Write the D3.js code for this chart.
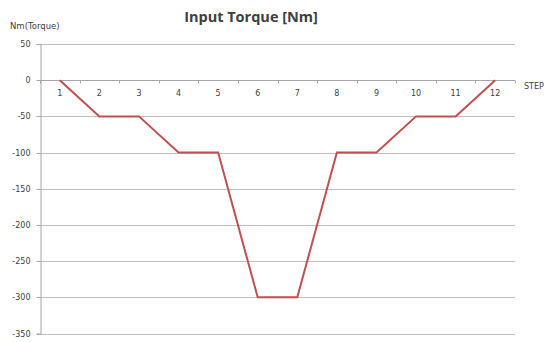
<!DOCTYPE html>
<html>
<head>
<meta charset="utf-8">
<script src="https://cdn.jsdelivr.net/npm/d3@7"></script>
<style>
  body { margin: 0; background: #fff; }
  svg text { font-family: "DejaVu Sans", Verdana, sans-serif; fill: #404040; }
</style>
</head>
<body>
<div id="chart"></div>
<script>
const steps = ['1', '2', '3', '4', '5', '6', '7', '8', '9', '10', '11', '12'];
const torque = [0, -50, -50, -100, -100, -300, -300, -100, -100, -50, -50, 0];
const yTicks = [50, 0, -50, -100, -150, -200, -250, -300, -350];

const width = 550;
const height = 342;
const plot = { left: 40, right: 515, top: 44, bottom: 333.5 };

const svg = d3.select('#chart')
  .append('svg')
  .attr('width', width)
  .attr('height', height);

const xScale = d3.scaleBand()
  .domain(steps)
  .range([plot.left, plot.right]);

const yScale = d3.scaleLinear()
  .domain([-350, 50])
  .range([plot.bottom, plot.top]);

// gridlines
svg.append('g')
  .selectAll('line')
  .data(yTicks)
  .join('line')
  .attr('x1', plot.left)
  .attr('x2', plot.right)
  .attr('y1', (d) => Math.round(yScale(d)) + 0.5)
  .attr('y2', (d) => Math.round(yScale(d)) + 0.5)
  .attr('stroke', '#bfbfbf')
  .attr('stroke-width', 1);

// y axis (plain hyphen for negatives, like the original)
const yAxis = svg.append('g')
  .attr('transform', `translate(${plot.left + 0.5}, 0)`)
  .call(d3.axisLeft(yScale).tickValues(yTicks).tickSize(4).tickPadding(6).tickFormat((d) => String(d)));
yAxis.select('.domain').attr('stroke', '#a6a6a6');
yAxis.selectAll('.tick line').attr('stroke', '#a6a6a6');
yAxis.selectAll('.tick').attr('transform', (d) => `translate(0, ${Math.round(yScale(d)) + 0.5})`);
yAxis.selectAll('text').style('font-size', '8px').attr('fill', '#404040');

// x axis on zero line
const xAxis = svg.append('g')
  .attr('transform', `translate(0, ${Math.round(yScale(0)) + 0.5})`);
xAxis.append('line')
  .attr('x1', plot.left).attr('x2', plot.right)
  .attr('stroke', '#a6a6a6');
xAxis.selectAll('.tk')
  .data(d3.range(steps.length + 1))
  .join('line')
  .attr('class', 'tk')
  .attr('x1', (i) => Math.round(plot.left + i * xScale.bandwidth()) + 0.5)
  .attr('x2', (i) => Math.round(plot.left + i * xScale.bandwidth()) + 0.5)
  .attr('y1', 0).attr('y2', 3)
  .attr('stroke', '#a6a6a6');
xAxis.selectAll('text')
  .data(steps)
  .join('text')
  .attr('x', (d) => xScale(d) + xScale.bandwidth() / 2)
  .attr('y', 15)
  .attr('text-anchor', 'middle')
  .style('font-size', '8px')
  .text((d) => d);

// line
const line = d3.line()
  .x((d, i) => xScale(steps[i]) + xScale.bandwidth() / 2)
  .y((d) => yScale(d));

svg.append('path')
  .datum(torque)
  .attr('d', line)
  .attr('fill', 'none')
  .attr('stroke', '#c0504d')
  .attr('stroke-width', 2)
  .attr('stroke-linejoin', 'miter');

// titles
svg.append('text')
  .attr('x', 251)
  .attr('y', 22)
  .attr('text-anchor', 'middle')
  .style('font-family', '"Open Sans", sans-serif')
  .style('font-weight', 'bold')
  .style('font-size', '14.5px')
  .attr('fill', '#000')
  .text('Input Torque [Nm]');

svg.append('text')
  .attr('x', 10)
  .attr('y', 29)
  .style('font-size', '8.5px')
  .text('Nm(Torque)');

svg.append('text')
  .attr('x', 524)
  .attr('y', 89)
  .style('font-size', '8px')
  .text('STEP');
</script>
</body>
</html>
